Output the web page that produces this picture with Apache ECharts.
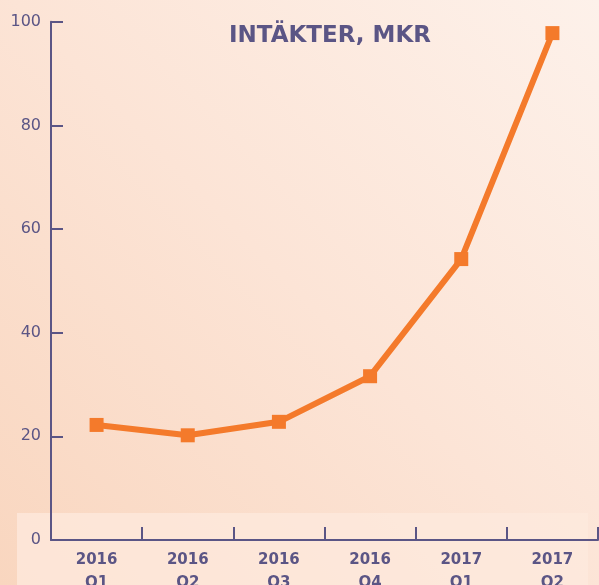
<!DOCTYPE html>
<html>
<head>
<meta charset="utf-8">
<script src="https://cdn.jsdelivr.net/npm/echarts@6/dist/echarts.min.js"></script>
<style>
  html, body { margin: 0; padding: 0; }
  #chart { width: 599px; height: 585px; }
</style>
</head>
<body>
<div id="chart"></div>
<script>
// kvartal och intäkter (MKR)
var quarters = ["2016\nQ1", "2016\nQ2", "2016\nQ3", "2016\nQ4", "2017\nQ1", "2017\nQ2"];
var revenue = [22.2, 20.2, 22.8, 31.6, 54.2, 97.8];
var yTicks = [0, 20, 40, 60, 80, 100];

var ink = "#5b5585";
var orange = "#f47a2b";
var font = "DejaVu Sans";

var chart = echarts.init(document.getElementById("chart"));

chart.setOption({
  backgroundColor: {
    type: "linear",
    x: 1, y: 0, x2: 0, y2: 1,
    colorStops: [
      { offset: 0, color: "#fdf1ea" },
      { offset: 0.5, color: "#fce4d6" },
      { offset: 1, color: "#f9d6bf" },
    ],
  },
  graphic: [
    {
      type: "rect",
      z: -10,
      silent: true,
      shape: { x: 17, y: 513, width: 571, height: 80 },
      style: { fill: "rgba(253,234,222,0.75)" },
    },
  ],
  title: {
    text: "INTÄKTER, MKR",
    left: 325,
    top: 20,
    textAlign: "center",
    textStyle: {
      color: ink,
      fontFamily: font,
      fontWeight: "bold",
      fontSize: 23,
    },
  },
  grid: {
    left: 51,
    right: 1,
    top: 21.7,
    bottom: 45,
    containLabel: false,
    outerBoundsMode: "none",
  },
  xAxis: {
    type: "category",
    data: quarters,
    boundaryGap: true,
    z: 5,
    axisLine: { show: true, lineStyle: { color: ink, width: 2 } },
    axisTick: { show: true, interval: 0, inside: true, length: 13, lineStyle: { color: ink, width: 2 } },
    axisLabel: {
      color: ink,
      fontFamily: font,
      fontWeight: "bold",
      fontSize: 15,
      lineHeight: 23,
      margin: 9,
    },
    splitLine: { show: false },
  },
  yAxis: {
    type: "value",
    min: yTicks[0],
    max: yTicks[yTicks.length - 1],
    interval: yTicks[1] - yTicks[0],
    axisLine: { show: true, lineStyle: { color: ink, width: 2 } },
    axisTick: { show: true, inside: true, length: 12, lineStyle: { color: ink, width: 2 } },
    axisLabel: {
      color: ink,
      fontFamily: font,
      fontSize: 16,
      margin: 10,
    },
    splitLine: { show: false },
  },
  series: [
    {
      type: "line",
      data: revenue,
      symbol: "rect",
      symbolSize: 14,
      lineStyle: { color: orange, width: 6 },
      itemStyle: { color: orange },
      z: 3,
    },
  ],
});
</script>
</body>
</html>
